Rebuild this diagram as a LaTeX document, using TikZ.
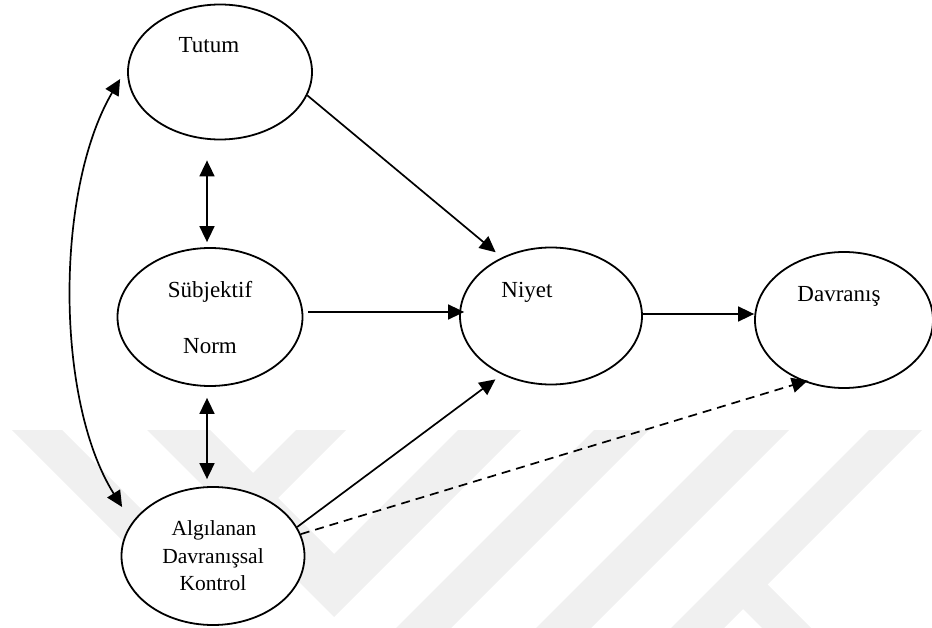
\documentclass[tikz,border=0pt]{standalone}
\usepackage{fontspec}
\setmainfont{Liberation Serif}
\usetikzlibrary{arrows.meta,shapes.geometric}

\tikzset{
  construct/.style={ellipse, draw, line width=1.8pt, fill=white, inner sep=0pt},
  nodetext/.style={font=\fontsize{23}{28}\selectfont, anchor=base, inner sep=0pt},
  smalltext/.style={font=\fontsize{21.5}{27}\selectfont, anchor=base, inner sep=0pt},
  tip/.tip={Triangle[length=16pt,width=15pt]},
  link/.style={line width=1.7pt, -tip},
  bothlink/.style={line width=1.7pt, tip-tip},
  dashedlink/.style={line width=1.7pt, -tip, dash pattern=on 9pt off 6pt},
  wm/.style={fill=black!6}
}

\begin{document}
\begin{tikzpicture}[x=1pt,y=-1pt]
\useasboundingbox (0,0) rectangle (932,628);

% faint background logo bands
\fill[wm] (12,430) -- (62,430) -- (179,547) -- (296,430) -- (346,430) -- (179,597) -- cycle;
\fill[wm] (147,430) -- (210,430) -- (334,554) -- (458,430) -- (521,430) -- (334,617) -- cycle;
\fill[wm] (594,430) -- (649,430) -- (451,628) -- (396,628) -- cycle;
\fill[wm] (734,430) -- (789,430) -- (591,628) -- (536,628) -- cycle;
\fill[wm] (869,430) -- (922,430) -- (724,628) -- (671,628) -- cycle;
\fill[wm] (765,582) -- (811,628) -- (762,628) -- (741,607) -- cycle;

% constructs
\node[construct, minimum width=184pt, minimum height=135pt] (tut) at (220,72) {};
\node[construct, minimum width=185pt, minimum height=138pt] (sub) at (210,317) {};
\node[construct, minimum width=182pt, minimum height=137pt] (niy) at (551,316) {};
\node[construct, minimum width=178pt, minimum height=136pt] (dav) at (844,320) {};
\node[construct, minimum width=183pt, minimum height=138pt] (alg) at (213,556) {};

% labels
\node[nodetext] (tutT) at (209,53) {Tutum};
\node[nodetext] (subT1) at (210,298) {Sübjektif};
\node[nodetext] (subT2) at (210,353) {Norm};
\node[nodetext] (niyT) at (527,298) {Niyet};
\node[nodetext] (davT) at (839,302) {Davranış};
\node[smalltext] (algT1) at (214,535) {Algılanan};
\node[smalltext] (algT2) at (213,563) {Davranışsal};
\node[smalltext] (algT3) at (213,590) {Kontrol};

% paths into intention and behaviour
\draw[link, shorten >=8pt] (tut.-15) -- (niy.130);
\draw[link] ([xshift=5pt,yshift=5pt]sub.east) -- ([xshift=5pt,yshift=5pt]sub.east -| niy.west);
\draw[link, shorten >=8pt] (alg.19) -- (niy.230);
\draw[link] ([yshift=2pt]niy.east) -- ([yshift=2pt]niy.east -| dav.west);
\draw[dashedlink, shorten >=-4pt] (alg.14) -- (dav.237);

% correlations among the predictors
\draw[bothlink] ([xshift=-13pt,yshift=-20pt]tut.south) -- ([xshift=-3pt,yshift=5pt]sub.north);
\draw[bothlink] ([xshift=-3pt,yshift=-11pt]sub.south) -- ([xshift=-6pt,yshift=7pt]alg.north);
\draw[bothlink] ([xshift=-7pt,yshift=-7pt]tut.west) .. controls (55,190) and (55,400) .. ([xshift=1.5pt,yshift=49pt]alg.west);
\end{tikzpicture}
\end{document}
